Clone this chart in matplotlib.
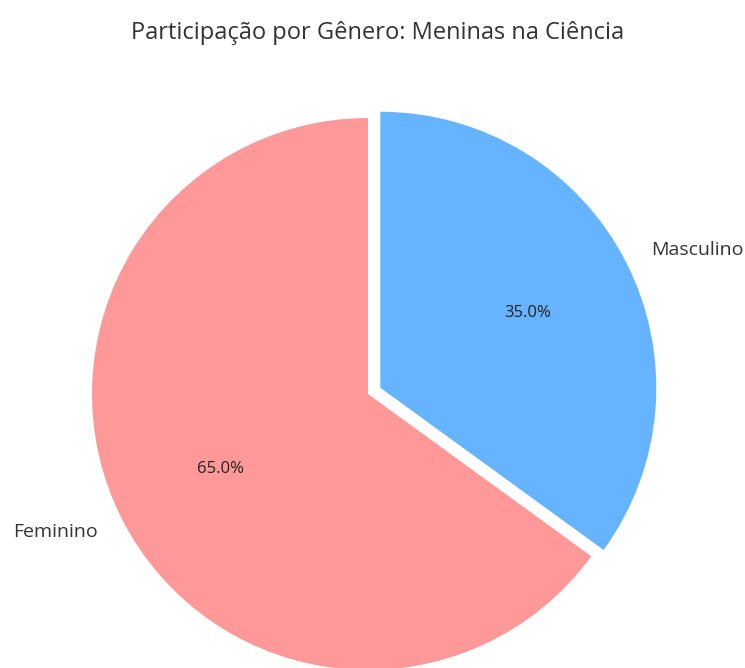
import matplotlib.pyplot as plt

plt.rcParams['font.family'] = ['Open Sans', 'DejaVu Sans']

# participação por gênero
generos = ['Feminino', 'Masculino']
valores = [65, 35]
cores = ['#ff9999', '#66b3ff']
explode = [0, 0.05]

fig = plt.figure(figsize=(7.45, 6.68), dpi=100)

# eixo quadrado centrado na pizza (raio 1 = ~276 px)
cx, cy, raio = 368, 668 - 394, 276
meio = 1.4 * raio
ax = fig.add_axes([(cx - meio) / 745, (cy - meio) / 668, 2 * meio / 745, 2 * meio / 668])

wedges, textos, autotextos = ax.pie(valores, labels=generos, colors=cores, explode=explode,
                                    autopct='%1.1f%%', startangle=90)
for t in textos:
    t.set_fontsize(14)
    t.set_color('#333333')
for t in autotextos:
    t.set_fontsize(12)
    t.set_color('#222222')

ax.set_xlim(-1.4, 1.4)
ax.set_ylim(-1.4, 1.4)
ax.axis('off')

fig.text(378 / 745, 1 - 33 / 668, 'Participação por Gênero: Meninas na Ciência',
         ha='center', va='center', fontsize=17, color='#333333')

fig.savefig('out.png', dpi=100)
